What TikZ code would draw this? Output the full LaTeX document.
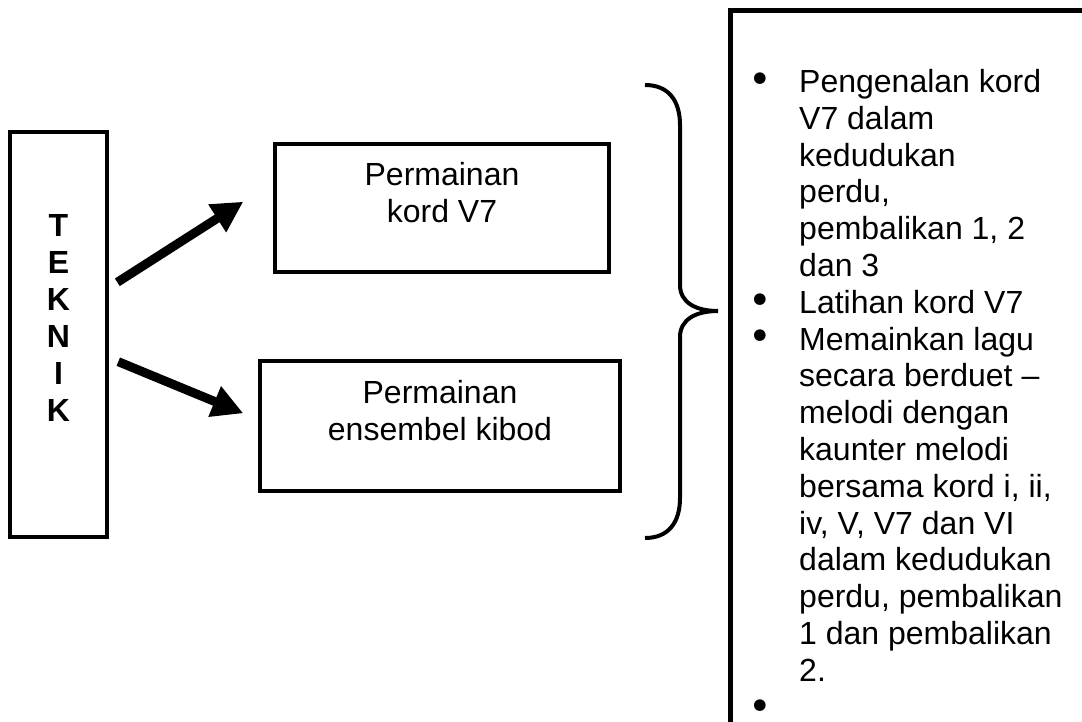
\documentclass[tikz,border=0pt]{standalone}
\usepackage{fontspec}
\setmainfont{Liberation Sans}
\newfontfamily\bulfont{DejaVu Sans}
\usetikzlibrary{arrows.meta}
\begin{document}
\begin{tikzpicture}[x=1pt,y=-1pt,
  box/.style={draw, line width=4.5pt, rectangle, inner sep=0pt},
  txt/.style={font=\fontsize{32}{36.8}\selectfont, inner sep=0pt},
  bul/.style={font=\bulfont\fontsize{40}{40}\selectfont, inner sep=0pt, anchor=center},
  bigarrow/.style={line width=9pt, -{Triangle[length=31pt,width=31pt]}},
  ]
\useasboundingbox (0,0) rectangle (1082,722);
\fill[white] (0,0) rectangle (1082,722);
% left box
\node[box, minimum width=97pt, minimum height=405pt] (teknik) at (58.5,334.5) {};
\node[inner sep=0pt, font=\fontsize{32}{37}\selectfont\bfseries, align=center, anchor=north] (tk) at (58.5,214) {T\\E\\K\\N\\I\\K};
% middle boxes
\node[box, minimum width=334pt, minimum height=128pt] (b1) at (442,208) {};
\node[txt, align=center, anchor=north] (t1) at (442,162) {Permainan\\kord V7};
\node[box, minimum width=360pt, minimum height=130pt] (b2) at (440,426) {};
\node[txt, align=center, anchor=north] (t2) at (440,380) {Permainan\\ensembel kibod};
% arrows
\coordinate (a1s) at (117.3,282.3);
\coordinate (a1e) at (243.3,201.7);
\coordinate (a2s) at (118.3,361.7);
\coordinate (a2e) at (243.3,413.3);
\draw[bigarrow] (a1s) -- (a1e);
\draw[bigarrow] (a2s) -- (a2e);
% brace
\draw[line width=4pt] (645,85) .. controls (668,85) and (680,100) .. (680,125) -- (680,285)
  .. controls (680,302) and (695,311) .. (718,311)
  .. controls (695,311) and (680,320) .. (680,337) -- (680,498)
  .. controls (680,523) and (668,538) .. (645,538);
% right box (open at right and bottom)
\draw[line width=4.5pt] (1090,10.5) -- (730.5,10.5) -- (730.5,730);
% list
\node[bul] (p1) at (760,83) {•};
\node[txt, align=left, anchor=north west] (i1) at (799,69.1) {Pengenalan kord\\V7 dalam\\kedudukan\\perdu,\\pembalikan 1, 2\\dan 3};
\node[bul] (p2) at (760,303.8) {•};
\node[txt, align=left, anchor=north west] (i2) at (799,289.9) {Latihan kord V7};
\node[bul] (p3) at (760,340.6) {•};
\node[txt, align=left, anchor=north west] (i3) at (799,326.7) {Memainkan lagu\\secara berduet –\\melodi dengan\\kaunter melodi\\bersama kord i, ii,\\iv, V, V7 dan VI\\dalam kedudukan\\perdu, pembalikan\\1 dan pembalikan\\2.};
\node[bul] (p4) at (760,710) {•};
\end{tikzpicture}
\end{document}
